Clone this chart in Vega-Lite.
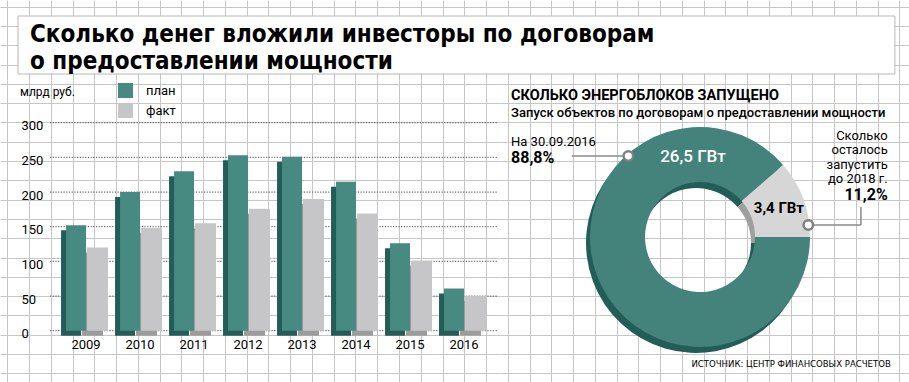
{
  "$schema": "https://vega.github.io/schema/vega-lite/v6.json",
  "padding": 0,
  "background": "white",
  "spacing": 0,
  "config": {
    "view": {"stroke": null},
    "font": "Roboto",
    "axis": {"minExtent": 0, "maxExtent": 0}
  },
  "datasets": {
    "bars": [
      {"year": "2009", "series": "план", "value": 152},
      {"year": "2009", "series": "факт", "value": 120},
      {"year": "2010", "series": "план", "value": 200},
      {"year": "2010", "series": "факт", "value": 148},
      {"year": "2011", "series": "план", "value": 230},
      {"year": "2011", "series": "факт", "value": 155},
      {"year": "2012", "series": "план", "value": 253},
      {"year": "2012", "series": "факт", "value": 176},
      {"year": "2013", "series": "план", "value": 251},
      {"year": "2013", "series": "факт", "value": 190},
      {"year": "2014", "series": "план", "value": 215},
      {"year": "2014", "series": "факт", "value": 169},
      {"year": "2015", "series": "план", "value": 126},
      {"year": "2015", "series": "факт", "value": 101},
      {"year": "2016", "series": "план", "value": 61},
      {"year": "2016", "series": "факт", "value": 50}
    ],
    "ticks": [{"v": 0}, {"v": 50}, {"v": 100}, {"v": 150}, {"v": 200}, {"v": 250}, {"v": 300}],
    "donut": [
      {"cat": "запущено", "gw": 26.5},
      {"cat": "осталось", "gw": 3.4}
    ],
    "one": [{}]
  },
  "vconcat": [
    {
      "width": 909,
      "height": 80,
      "data": {"name": "one"},
      "encoding": {
        "x": {"type": "quantitative", "scale": {"domain": [-0.3355, 41.438], "nice": false, "zero": false},
          "axis": {"orient": "top", "values": [0,1,2,3,4,5,6,7,8,9,10,11,12,13,14,15,16,17,18,19,20,21,22,23,24,25,26,27,28,29,30,31,32,33,34,35,36,37,38,39,40,41], "grid": true, "gridColor": "#c6c6c6", "gridWidth": 1, "labels": false, "ticks": false, "domain": false, "title": null}},
        "y": {"type": "quantitative", "scale": {"domain": [-0.347, 3.798], "reverse": true, "nice": false, "zero": false},
          "axis": {"orient": "right", "values": [0,1,2,3], "grid": true, "gridColor": "#c6c6c6", "gridWidth": 1, "labels": false, "ticks": false, "domain": false, "title": null}}
      },
      "layer": [
        {
          "mark": {"type": "rect", "fill": "white", "stroke": "#b8b8b8", "strokeWidth": 1},
          "encoding": {"x": {"datum": 0.492}, "x2": {"datum": 40.79}, "y": {"datum": 0.482}, "y2": {"datum": 3.487}}
        },
        {
          "mark": {"type": "text", "text": ["Сколько денег вложили инвесторы по договорам", "о предоставлении мощности"], "align": "left", "baseline": "alphabetic", "font": "DejaVu Sans Condensed", "fontWeight": "bold", "fontSize": 24, "lineHeight": 27, "color": "black"},
          "encoding": {"x": {"datum": 1.043}, "y": {"datum": 1.813}}
        }
      ]
    },
    {
      "spacing": 0,
      "hconcat": [
        {
          "width": 500,
          "height": 302,
          "resolve": {"scale": {"x": "independent", "y": "independent"}},
          "layer": [
            {
              "data": {"name": "one"},
              "encoding": {
                "x": {"type": "quantitative", "scale": {"domain": [-0.3355, 22.642], "nice": false, "zero": false},
                  "axis": {"orient": "top", "values": [0,1,2,3,4,5,6,7,8,9,10,11,12,13,14,15,16,17,18,19,20,21,22], "grid": true, "gridColor": "#c6c6c6", "gridWidth": 1, "labels": false, "ticks": false, "domain": false, "title": null}},
                "y": {"type": "quantitative", "scale": {"domain": [3.798, 19.446], "reverse": true, "nice": false, "zero": false},
                  "axis": {"orient": "right", "values": [4,5,6,7,8,9,10,11,12,13,14,15,16,17,18,19], "grid": true, "gridColor": "#c6c6c6", "gridWidth": 1, "labels": false, "ticks": false, "domain": false, "title": null}}
              },
              "layer": [
                {
                  "mark": {"type": "text", "text": "млрд руб.", "align": "left", "baseline": "alphabetic", "fontSize": 12, "color": "black"},
                  "encoding": {"x": {"datum": 0.583}, "y": {"datum": 4.627}}
                }
              ]
            },
            {
              "data": {"name": "bars"},
              "encoding": {
                "x": {"field": "year", "type": "nominal",
                  "scale": {"type": "band", "domain": ["2009","2010","2011","2012","2013","2014","2015","2016"], "paddingInner": 0, "paddingOuter": 0.63, "align": 0.868},
                  "axis": {"orient": "bottom", "offset": -51.3, "labelAngle": 0, "labelFontSize": 13, "labelColor": "black", "labelPadding": 8, "labelBaseline": "top", "ticks": false, "tickSize": 0, "domain": false, "grid": false, "title": null}},
                "y": {"field": "value", "type": "quantitative",
                  "scale": {"domain": [-74, 361.6], "nice": false, "zero": false},
                  "axis": {"orient": "left", "offset": -21, "values": [0,50,100,150,200,250,300], "labelAlign": "left", "labelBaseline": "middle", "labelOffset": 3, "labelPadding": 0, "labelFontSize": 13, "labelColor": "black", "ticks": false, "tickSize": 0, "domain": false, "grid": false, "title": null}}
              },
              "layer": [
                {
                  "data": {"name": "ticks"},
                  "mark": {"type": "rule", "color": "#6f6f6f", "strokeWidth": 1.2, "strokeDash": [1.2, 1.5]},
                  "encoding": {
                    "x": {"datum": "2009", "bandPosition": -0.167},
                    "x2": {"datum": "2016", "bandPosition": 1.11},
                    "y": {"field": "v", "type": "quantitative"}
                  }
                },
                {
                  "transform": [{"filter": "datum.series === 'факт'"}],
                  "mark": {"type": "bar", "width": 21, "xOffset": 6.5, "yOffset": 5, "y2Offset": 5, "color": "#9c9c9c"}
                },
                {
                  "transform": [{"filter": "datum.series === 'план'"}],
                  "mark": {"type": "bar", "width": 20, "xOffset": -15, "yOffset": 5, "y2Offset": 5, "color": "#235d57"}
                },
                {
                  "transform": [{"filter": "datum.series === 'план'"}],
                  "mark": {"type": "bar", "width": 20, "xOffset": -10},
                  "encoding": {
                    "color": {"field": "series", "type": "nominal", "scale": {"domain": ["план", "факт"], "range": ["#468a82", "#c6c6c8"]},
                      "legend": {"orient": "none", "legendX": 118, "legendY": 83, "title": null, "symbolType": "square", "symbolSize": 225, "symbolStrokeWidth": 0, "symbolOpacity": 1, "labelFontSize": 13, "labelColor": "black", "labelOffset": 13, "rowPadding": 5}}
                  }
                },
                {
                  "transform": [{"filter": "datum.series === 'факт'"}],
                  "mark": {"type": "bar", "width": 21, "xOffset": 11.5},
                  "encoding": {
                    "color": {"field": "series", "type": "nominal", "scale": {"domain": ["план", "факт"], "range": ["#468a82", "#c6c6c8"]},
                      "legend": {"orient": "none", "legendX": 118, "legendY": 83, "title": null, "symbolType": "square", "symbolSize": 225, "symbolStrokeWidth": 0, "symbolOpacity": 1, "labelFontSize": 13, "labelColor": "black", "labelOffset": 13, "rowPadding": 5}}
                  }
                }
              ]
            }
          ]
        },
        {
          "width": 409,
          "height": 302,
          "encoding": {
            "x": {"type": "quantitative", "scale": {"domain": [22.642, 41.438], "nice": false, "zero": false},
              "axis": {"orient": "top", "values": [23,24,25,26,27,28,29,30,31,32,33,34,35,36,37,38,39,40,41], "grid": true, "gridColor": "#c6c6c6", "gridWidth": 1, "labels": false, "ticks": false, "domain": false, "title": null}},
            "y": {"type": "quantitative", "scale": {"domain": [3.798, 19.446], "reverse": true, "nice": false, "zero": false},
              "axis": {"orient": "right", "values": [4,5,6,7,8,9,10,11,12,13,14,15,16,17,18,19], "grid": true, "gridColor": "#c6c6c6", "gridWidth": 1, "labels": false, "ticks": false, "domain": false, "title": null}}
          },
          "layer": [
            {
              "data": {"name": "donut"},
              "mark": {"type": "arc", "outerRadius": 110, "innerRadius": 55, "xOffset": -4, "yOffset": 6},
              "encoding": {
                "x": {"datum": 31.834}, "y": {"datum": 11.933},
                "theta": {"field": "gw", "type": "quantitative", "stack": true, "scale": {"range": [1.5708, 7.854]}},
                "order": {"field": "gw", "sort": "descending"},
                "color": {"condition": {"test": "datum.cat === 'запущено'", "value": "#235d57"}, "value": "#9f9f9f"}
              }
            },
            {
              "data": {"name": "donut"},
              "mark": {"type": "arc", "outerRadius": 110, "innerRadius": 55},
              "encoding": {
                "x": {"datum": 31.834}, "y": {"datum": 11.933},
                "theta": {"field": "gw", "type": "quantitative", "stack": true, "scale": {"range": [1.5708, 7.854]}},
                "order": {"field": "gw", "sort": "descending"},
                "color": {"condition": {"test": "datum.cat === 'запущено'", "value": "#43837b"}, "value": "#d6d6d6"}
              }
            },
            {
              "data": {"name": "one"},
              "layer": [
                {"mark": {"type": "text", "text": "СКОЛЬКО ЭНЕРГОБЛОКОВ ЗАПУЩЕНО", "align": "left", "baseline": "alphabetic", "fontSize": 14.5, "fontWeight": "bold", "color": "black"},
                  "encoding": {"x": {"datum": 23.15}, "y": {"datum": 4.834}}},
                {"mark": {"type": "text", "text": "Запуск объектов по договорам о предоставлении мощности", "align": "left", "baseline": "alphabetic", "fontSize": 13, "fontWeight": 500, "color": "black"},
                  "encoding": {"x": {"datum": 23.15}, "y": {"datum": 5.741}}},
                {"mark": {"type": "text", "text": "На 30.09.2016", "align": "left", "baseline": "alphabetic", "fontSize": 13, "color": "black"},
                  "encoding": {"x": {"datum": 23.15}, "y": {"datum": 7.192}}},
                {"mark": {"type": "text", "text": "88,8%", "align": "left", "baseline": "alphabetic", "fontSize": 16, "fontWeight": "bold", "color": "black"},
                  "encoding": {"x": {"datum": 23.15}, "y": {"datum": 8.114}}},
                {"mark": {"type": "rule", "color": "#8a8a8a", "strokeWidth": 1.5},
                  "encoding": {"x": {"datum": 25.94}, "x2": {"datum": 28.32}, "y": {"datum": 7.736}}},
                {"mark": {"type": "point", "shape": "circle", "size": 90, "filled": true, "fill": "white", "stroke": "#808080", "strokeWidth": 2.5, "opacity": 1},
                  "encoding": {"x": {"datum": 28.54}, "y": {"datum": 7.736}}},
                {"mark": {"type": "text", "text": "26,5 ГВт", "align": "center", "baseline": "alphabetic", "fontSize": 17, "fontWeight": 500, "color": "white"},
                  "encoding": {"x": {"datum": 31.51}, "y": {"datum": 8.031}}},
                {"mark": {"type": "text", "text": "3,4 ГВт", "align": "center", "baseline": "alphabetic", "fontSize": 15, "fontWeight": "bold", "color": "black"},
                  "encoding": {"x": {"datum": 35.46}, "y": {"datum": 10.674}}},
                {"mark": {"type": "text", "text": ["Сколько", "осталось", "запустить", "до 2018 г."], "align": "right", "baseline": "alphabetic", "fontSize": 13, "lineHeight": 14.5, "color": "black"},
                  "encoding": {"x": {"datum": 40.46}, "y": {"datum": 6.881}}},
                {"mark": {"type": "text", "text": "11,2%", "align": "right", "baseline": "alphabetic", "fontSize": 16, "fontWeight": "bold", "color": "black"},
                  "encoding": {"x": {"datum": 40.46}, "y": {"datum": 10.016}}},
                {"mark": {"type": "rule", "color": "#8a8a8a", "strokeWidth": 1.5},
                  "encoding": {"x": {"datum": 37.03}, "x2": {"datum": 39.23}, "y": {"datum": 11.31}}},
                {"mark": {"type": "rule", "color": "#8a8a8a", "strokeWidth": 1.5},
                  "encoding": {"x": {"datum": 39.23}, "y": {"datum": 10.378}, "y2": {"datum": 11.31}}},
                {"mark": {"type": "point", "shape": "circle", "size": 90, "filled": true, "fill": "white", "stroke": "#808080", "strokeWidth": 2.5, "opacity": 1},
                  "encoding": {"x": {"datum": 36.81}, "y": {"datum": 11.31}}},
                {"mark": {"type": "text", "text": "ИСТОЧНИК: ЦЕНТР ФИНАНСОВЫХ РАСЧЕТОВ", "align": "right", "baseline": "alphabetic", "fontSize": 9.5, "font": "DejaVu Sans Condensed", "color": "black"},
                  "encoding": {"x": {"datum": 40.6}, "y": {"datum": 18.684}}}
              ]
            }
          ]
        }
      ]
    }
  ]
}
